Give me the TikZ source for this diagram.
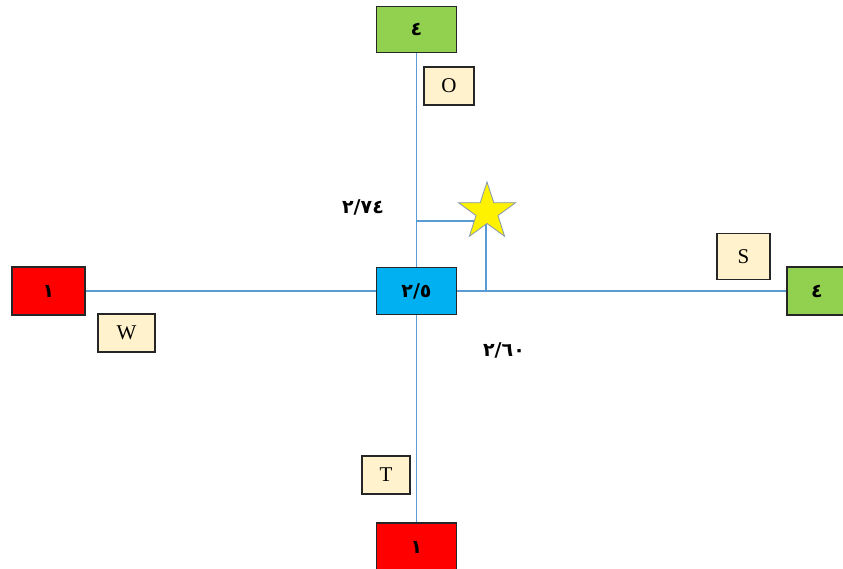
\documentclass[tikz,border=0pt]{standalone}
\usepackage{fontspec}
\setmainfont{Liberation Serif}
\newfontfamily\arabicfont[Script=Arabic]{DejaVu Sans}
\usetikzlibrary{shapes.geometric}
\definecolor{lgreen}{HTML}{92D050}
\definecolor{lred}{HTML}{FF0000}
\definecolor{lblue}{HTML}{00B0F0}
\definecolor{beige}{HTML}{FFF2CC}
\definecolor{linec}{HTML}{5B9BD5}
\definecolor{starline}{HTML}{8497B0}
\tikzset{
  numbox/.style={draw=black!85, line width=1.2pt, minimum width=80pt, minimum height=46pt, inner sep=0pt, font=\arabicfont\bfseries\fontsize{19}{19}\selectfont},
  letbox/.style={draw=black!85, line width=1.2pt, fill=beige, minimum width=52pt, minimum height=38pt, inner sep=0pt, font=\fontsize{21}{21}\selectfont},
  conn/.style={draw=linec, line width=1.3pt},
  starshape/.style={star, star points=5, star point ratio=2.6, draw=starline, line width=0.8pt, fill=yellow, minimum size=60pt, inner sep=0pt},
  numlabel/.style={font=\arabicfont\bfseries\fontsize{19}{19}\selectfont, inner sep=0pt}
}
\begin{document}
\begin{tikzpicture}[x=1pt,y=-1pt]
\useasboundingbox (0,0) rectangle (843,569);
% nodes
\node[numbox, fill=lgreen] (top) at (416.5,29.5) {٤};
\node[numbox, fill=lred, minimum height=48pt] (bottom) at (416.5,547) {١};
\node[numbox, fill=lred, minimum width=73pt, minimum height=48pt] (left) at (48.5,291) {١};
\node[numbox, fill=lgreen, minimum width=60pt, minimum height=48pt] (right) at (817,291) {٤};
\node[letbox, minimum width=50pt] (O) at (449,86) {O};
\node[letbox, minimum width=57pt] (W) at (126.5,333) {W};
\node[letbox, minimum width=53pt, minimum height=46pt] (S) at (743.5,256.5) {S};
\node[letbox, minimum width=48pt] (T) at (386,475) {T};
\coordinate (j1) at (416.5,221);
\coordinate (j2) at (486,291);
% connectors
\draw[conn] (top.south) -- (top.south |- bottom.north);
\draw[conn] (left.east) -- (left.east -| right.west);
\draw[conn] (j1) -- (486,221) -- (j2);
% nodes drawn over the lines
\node[numbox, fill=lblue, minimum height=47pt] (center) at (416.5,291) {٢/٥};
\node[starshape] (star) at (487,212) {};
% labels
\node[numlabel] (l1) at (363,207) {٢/٧٤};
\node[numlabel] (l2) at (504,350) {٢/٦٠};
\end{tikzpicture}
\end{document}
